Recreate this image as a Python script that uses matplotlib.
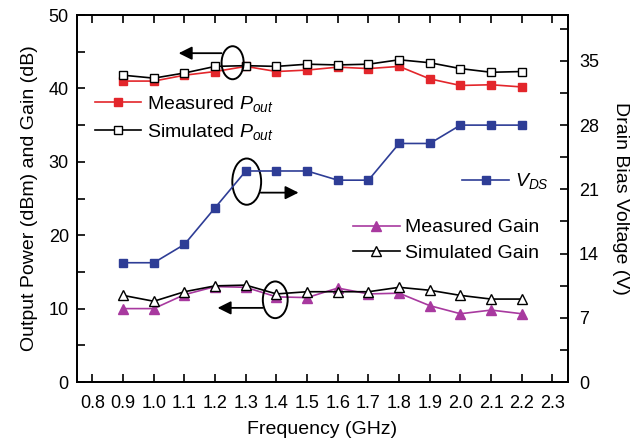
import numpy as np
import matplotlib
matplotlib.use('Agg')
import matplotlib.pyplot as plt
from matplotlib.patches import Ellipse
from matplotlib.ticker import MultipleLocator

plt.rcParams['font.family'] = ['Liberation Sans', 'DejaVu Sans']
plt.rcParams['mathtext.fontset'] = 'custom'
plt.rcParams['mathtext.it'] = 'Liberation Sans:italic'
plt.rcParams['mathtext.rm'] = 'Liberation Sans'

freq = [0.9, 1.0, 1.1, 1.2, 1.3, 1.4, 1.5, 1.6, 1.7, 1.8, 1.9, 2.0, 2.1, 2.2]
pout_meas = [41.0, 41.0, 41.8, 42.3, 43.0, 42.3, 42.5, 42.9, 42.7, 43.0, 41.3, 40.4, 40.5, 40.2]
pout_sim = [41.8, 41.4, 42.1, 43.0, 43.1, 43.0, 43.3, 43.2, 43.3, 43.9, 43.5, 42.7, 42.2, 42.3]
gain_meas = [10.0, 10.0, 11.9, 13.0, 12.9, 11.6, 11.5, 12.8, 12.0, 12.1, 10.4, 9.3, 9.8, 9.3]
gain_sim = [11.8, 11.0, 12.3, 13.1, 13.2, 12.0, 12.3, 12.3, 12.3, 12.9, 12.5, 11.8, 11.3, 11.3]
vds = [13, 13, 15, 19, 23, 23, 23, 22, 22, 26, 26, 28, 28, 28]

red = '#e3262b'
blue = '#2e3d96'
purple = '#a8399f'

fig = plt.figure(figsize=(6.43, 4.47), dpi=100)
ax = fig.add_axes([0.12, 0.1454, 0.763, 0.821])
ax2 = ax.twinx()

l_pm, = ax.plot(freq, pout_meas, '-s', color=red, mfc=red, mec=red, ms=6, lw=1.2,
                label=r'Measured $P_{out}$')
l_ps, = ax.plot(freq, pout_sim, '-s', color='black', mfc='white', mec='black', ms=6, lw=1.2,
                label=r'Simulated $P_{out}$')
l_gm, = ax.plot(freq, gain_meas, '-^', color=purple, mfc=purple, mec=purple, ms=7, lw=1.2,
                label='Measured Gain')
l_gs, = ax.plot(freq, gain_sim, '-^', color='black', mfc='white', mec='black', ms=7, lw=1.2,
                label='Simulated Gain')
l_v, = ax2.plot(freq, vds, '-s', color=blue, mfc=blue, mec=blue, ms=6, lw=1.2,
                label=r'$V_{DS}$')

ax.set_xlim(0.75, 2.35)
ax.set_ylim(0, 50)
ax2.set_ylim(0, 40)
ax.set_xticks(np.arange(0.8, 2.31, 0.1))
ax.set_xticklabels(['%.1f' % v for v in np.arange(0.8, 2.31, 0.1)])
ax.yaxis.set_major_locator(MultipleLocator(10))
ax.yaxis.set_minor_locator(MultipleLocator(5))
ax2.set_yticks([0, 7, 14, 21, 28, 35])
ax2.yaxis.set_minor_locator(MultipleLocator(3.5))
ax2.set_ylim(0, 40)

ax.tick_params(axis='x', which='both', direction='in', top=True, length=6, width=1.2,
               labelsize=13, pad=9)
ax.tick_params(axis='y', which='both', direction='in', length=6, width=1.2,
               labelsize=13, pad=6)
ax2.tick_params(axis='y', which='both', direction='in', length=6, width=1.2,
                labelsize=13, pad=8)
for a in (ax, ax2):
    for s in a.spines.values():
        s.set_linewidth(1.3)

ax.set_xlabel('Frequency (GHz)', fontsize=14, labelpad=7)
ax.set_ylabel('Output Power (dBm) and Gain (dB)', fontsize=14, labelpad=8)
ax2.set_ylabel('Drain Bias Voltage (V)', fontsize=14, rotation=270, labelpad=22)

leg_kw = dict(frameon=False, fontsize=14, handlelength=2.4, handletextpad=0.3,
              labelspacing=0.4, borderaxespad=0, borderpad=0)
leg1 = ax2.legend(handles=[l_pm, l_ps], loc='upper left', bbox_to_anchor=(0.036, 0.785), **leg_kw)
ax2.add_artist(leg1)
leg2 = ax2.legend(handles=[l_v], loc='upper left', bbox_to_anchor=(0.785, 0.574), **leg_kw)
ax2.add_artist(leg2)
ax2.legend(handles=[l_gm, l_gs], loc='upper left', bbox_to_anchor=(0.562, 0.445), **leg_kw)

# ellipses mark each group of curves, arrows point to the axis they are read on
marks = [
    ((1.257, 43.5), 0.072, 4.5, (1.221, 44.8), (1.081, 44.8)),
    ((1.303, 27.3), 0.094, 6.3, (1.349, 25.8), (1.472, 25.8)),
    ((1.396, 11.2), 0.081, 5.0, (1.355, 10.1), (1.208, 10.1)),
]
for center, w, h, start, end in marks:
    ax.add_patch(Ellipse(center, w, h, fill=False, ec='black', lw=1.4, zorder=5))
    ax.annotate('', xy=end, xytext=start,
                arrowprops=dict(arrowstyle='-|>', color='black', lw=1.3, mutation_scale=20,
                                shrinkA=0, shrinkB=0))

fig.savefig('out.png', dpi=100)
